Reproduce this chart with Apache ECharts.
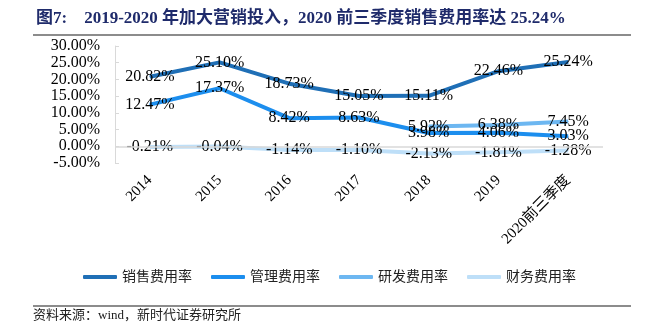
<!DOCTYPE html>
<html><head><meta charset="utf-8">
<script src="https://cdn.jsdelivr.net/npm/echarts@6/dist/echarts.min.js"></script>
<style>html,body{margin:0;padding:0;background:#fff}#c{width:650px;height:328px}</style>
</head><body><div id="c"></div>
<script>
const categories = ['2014','2015','2016','2017','2018','2019','2020前三季度'];
const salesRate = [20.82, 25.10, 18.73, 15.05, 15.11, 22.46, 25.24];
const adminRate = [12.47, 17.37, 8.42, 8.63, 3.98, 4.06, 3.03];
const rdRate = [null, null, null, null, 5.92, 6.38, 7.45];
const financeRate = [-0.21, -0.04, -1.14, -1.10, -2.13, -1.81, -1.28];
const seriesNames = ['销售费用率','管理费用率','研发费用率','财务费用率'];
const yTicks = {min: -5, max: 30, interval: 5};

const FONT = "'Liberation Serif','Noto Sans CJK SC',serif";
const colors = ['#1F6FB6', '#1C8EEE', '#6DB7F1', '#BEDFF8'];
const chart = echarts.init(document.getElementById('c'), null, {renderer: 'canvas'});

function mk(name, data, color, extra) {
  return Object.assign({
    name, type: 'line', data, symbol: 'circle', symbolSize: 1,
    itemStyle: {color}, lineStyle: {color, width: 4},
    connectNulls: false,
    label: {show: true, position: 'inside', color: '#000', fontFamily: FONT, fontSize: 16,
      formatter: p => p.value == null ? '' : p.value.toFixed(2) + '%'},
    emphasis: {disabled: true}, animation: false
  }, extra || {});
}

chart.setOption({
  animation: false,
  color: colors,
  title: {
    text: '图7:    2019-2020 年加大营销投入，2020 前三季度销售费用率达 25.24%',
    left: 31, top: 5,
    textStyle: {fontFamily: FONT, fontSize: 17, fontWeight: 'bold', color: '#1F2B6B'}
  },
  graphic: [
    {type: 'line', shape: {x1: 33, y1: 35, x2: 631, y2: 35}, style: {stroke: '#8c8c8c', lineWidth: 2}},
    {type: 'line', shape: {x1: 33, y1: 306, x2: 631, y2: 306}, style: {stroke: '#8c8c8c', lineWidth: 2}},
    {type: 'text', left: 33, top: 309, style: {text: '资料来源：wind，新时代证券研究所', fontFamily: FONT, fontSize: 13, fill: '#222'}}
  ],
  legend: {
    data: seriesNames, left: 83, top: 270, itemWidth: 34, itemHeight: 4, itemGap: 19,
    icon: 'roundRect', padding: 0,
    textStyle: {fontFamily: FONT, fontSize: 14, color: '#222'}
  },
  grid: {left: 115, right: 47, top: 46, bottom: 165},
  xAxis: {
    type: 'category', data: categories, boundaryGap: true,
    axisLine: {show: false, onZero: false}, axisTick: {show: false},
    axisLabel: {rotate: 45, margin: 15, fontFamily: FONT, fontSize: 15, color: '#000', interval: 0}
  },
  yAxis: {
    type: 'value', min: yTicks.min, max: yTicks.max, interval: yTicks.interval,
    axisLine: {show: true, lineStyle: {color: '#d9d9d9', width: 1}},
    axisTick: {show: true, inside: true, length: 4, lineStyle: {color: '#d9d9d9'}},
    splitLine: {show: false},
    axisLabel: {margin: 15, fontFamily: FONT, fontSize: 16, color: '#000',
      formatter: v => v.toFixed(2) + '%'}
  },
  series: [
    mk(seriesNames[3], financeRate, colors[3], {
      markLine: {silent: true, symbol: 'none', label: {show: false},
        lineStyle: {color: '#d9d9d9', width: 1.5, type: 'solid'}, data: [{yAxis: 0}]}
    }),
    mk(seriesNames[2], rdRate, colors[2]),
    mk(seriesNames[1], adminRate, colors[1]),
    mk(seriesNames[0], salesRate, colors[0])
  ]
});
</script></body></html>
